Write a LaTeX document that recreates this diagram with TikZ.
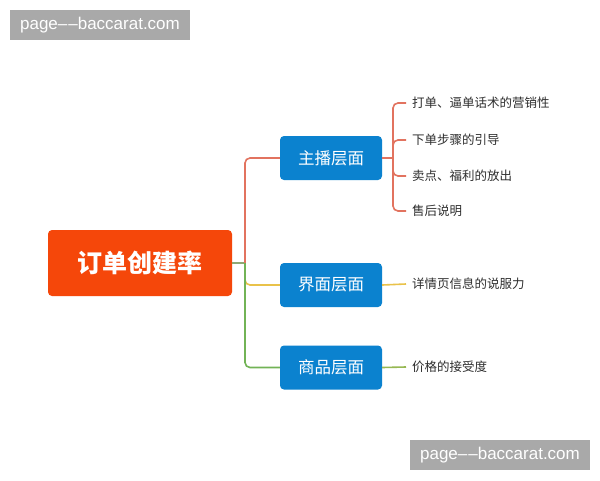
\documentclass[tikz,border=0pt]{standalone}
\usepackage{fontspec}
\newfontfamily\cjk{Noto Sans CJK SC}
\newfontfamily\wm{Liberation Sans}
\definecolor{rootc}{HTML}{F5470A}
\definecolor{bluec}{HTML}{0B82CF}
\definecolor{redl}{HTML}{E2735F}
\definecolor{yell}{HTML}{E9C24A}
\definecolor{grnl}{HTML}{72B356}
\definecolor{rootl}{HTML}{8FA874}
\definecolor{wmc}{HTML}{A9A9A9}
\definecolor{txt}{HTML}{2E2E2E}
\tikzset{
  rootbox/.style={fill=rootc, rounded corners=4pt, minimum width=184pt, minimum height=66pt, text=white, font=\cjk\fontsize{25}{27}\selectfont\bfseries, inner sep=0pt},
  subbox/.style={fill=bluec, rounded corners=4pt, minimum width=102pt, minimum height=44pt, text=white, font=\cjk\fontsize{16.5}{18}\selectfont, inner sep=0pt},
  leaf/.style={anchor=west, text=txt, font=\cjk\fontsize{12.5}{14}\selectfont, inner xsep=6pt, inner ysep=2pt},
  wmbox/.style={fill=wmc, text=white, font=\wm\fontsize{17}{19}\selectfont, minimum width=180pt, minimum height=30pt, inner sep=0pt},
  conn/.style={line width=1.6pt, rounded corners=5pt}
}
\begin{document}
\begin{tikzpicture}[x=1pt, y=-1pt]
\useasboundingbox[fill=white] (0,0) rectangle (600,480);
\node[wmbox] (wm1) at (100,25) {page–\kern1pt–baccarat.com};
\node[wmbox] (wm2) at (500,455) {page–\kern1pt–baccarat.com};

\node[rootbox] (root) at (140,263) {订单创建率};
\node[subbox] (zb) at (331,158) {主播层面};
\node[subbox] (jm) at (331,285) {界面层面};
\node[subbox] (sp) at (331,367.5) {商品层面};

\coordinate (trunk) at (245,263);
\draw[conn, rootl] (root.east) -- (trunk);
\draw[conn, redl] (trunk) |- (zb.west);
\draw[conn, yell] (trunk) |- (jm.west);
\draw[conn, grnl] (trunk) |- (sp.west);

\node[leaf] (a1) at (406,103) {打单、逼单话术的营销性};
\node[leaf] (a2) at (406,140) {下单步骤的引导};
\node[leaf] (a3) at (406,176) {卖点、福利的放出};
\node[leaf] (a4) at (406,211) {售后说明};
\node[leaf] (b1) at (406,284) {详情页信息的说服力};
\node[leaf] (c1) at (406,367) {价格的接受度};

\coordinate (zbj) at (393,158);
\draw[conn, redl] (zb.east) -- (zbj);
\foreach \n in {a1,a2,a3,a4}{
  \draw[conn, redl] (zbj) |- (\n.west);
}
\draw[conn, yell] (jm.east) -- (b1.west);
\draw[conn, grnl!70!yell] (sp.east) -- (c1.west);
\end{tikzpicture}
\end{document}
